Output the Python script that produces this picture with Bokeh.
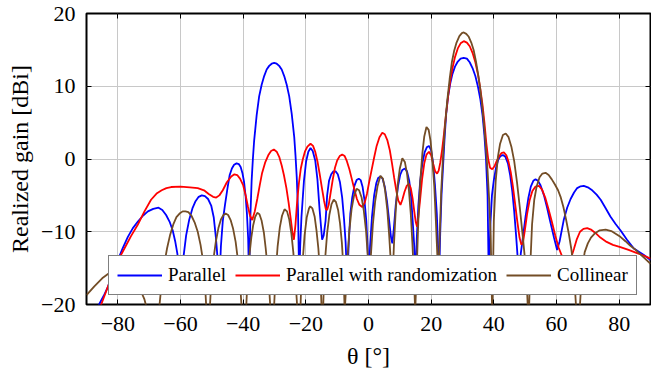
from bokeh.plotting import figure
from bokeh.models import LinearAxis, FixedTicker, Range1d
from bokeh.embed import file_html
from bokeh.resources import INLINE

# ---------------- data ----------------
par_x = [-90, -88, -86, -84.5, -83.2, -81.6, -80, -78.4, -76.8, -75.2, -73.6, -72, -70.4, -68.7, -67, -65.8,
         -64.6, -63.5, -62.5, -61.7, -61, -60.5, -60,
         -59.2, -58.2, -57.2, -56.2, -55.2, -54.2, -53.2, -52.2, -51.2, -50.2, -49.4, -48.7, -48.1, -47.6,
         -47.1, -46.5, -45.8, -45, -44.3, -43.6, -42.9, -42.1, -41.4, -40.8, -40.2, -39.7, -39.2, -38.8, -38.4, -38.1,
         -37.7, -37.3, -36.9, -36.5, -35.7, -34.9, -34.1, -33.3, -32.5, -31.7, -30.9, -30.1, -29.3, -28.5,
         -27.7, -26.9, -26.1, -25.3, -24.5, -23.7, -23.3, -22.9, -22.5, -22.1,
         -21.8, -21.4, -20.6, -19.9, -19.2, -18.5, -17.8, -17.0, -16.3, -15.6, -14.8,
         -14.3, -13.7, -13.2, -12.6, -11.9, -11.2, -10.5, -9.8, -9.1, -8.4, -7.8, -7.3, -6.8,
         -6.3, -5.8, -5.2, -4.5, -3.8, -3.1, -2.5, -1.9, -1.3, -0.7, -0.3, 0.1,
         0.5, 1.1, 1.8, 2.5, 3.1, 3.8, 4.5, 5.2, 5.9, 6.6, 7.2, 7.6,
         8.1, 8.7, 9.4, 10.1, 10.8, 11.6, 12.3, 13.0, 13.6, 14.1, 14.6, 15,
         15.4, 15.9, 16.5, 17.2, 17.9, 18.6, 19.3, 20.0, 20.6, 21.2, 21.8, 22.2, 22.5,
         22.9, 23.3, 23.8, 24.3, 24.8, 25.4, 26.1, 26.8, 27.6, 28.5, 29.4, 30.4, 31.4, 32.3, 33.2, 34.1,
         34.9, 35.7, 36.4, 37.0, 37.5, 38.0, 38.4,
         38.9, 39.4, 40.0, 40.7, 41.4, 42.1, 42.9, 43.7, 44.5, 45.2, 45.9, 46.5, 47.1, 47.6, 48.1,
         48.6, 49.2, 50.1, 51.0, 51.8, 52.6, 53.3, 54.1, 54.9, 56.0, 57.0, 58.0, 59.2, 60.2,
         61.0, 62.3, 63.4, 64.5, 65.6, 66.6, 67.7, 68.7, 70.0, 71.4, 72.8, 74.1, 75.6, 77.2, 78.8, 80.4,
         82.5, 84.7, 87.9, 90]
par_y = [-24, -22, -20, -18.8, -17.6, -15.7, -13.9, -12.2, -10.7, -9.5, -8.6, -7.8, -7.2, -6.85, -6.7, -7.0,
         -7.7, -8.6, -9.8, -11.3, -13, -15, -17,
         -14, -10.5, -8.3, -6.8, -5.8, -5.2, -5.0, -5.1, -5.5, -6.4, -8, -10.8, -14, -17,
         -12, -8.5, -6.3, -4, -2.2, -1.3, -0.8, -0.6, -0.7, -1.1, -2.0, -3.2, -5.2, -7.5, -11, -17,
         -8, -3, 0, 2.5, 6, 8.6, 10.2, 11.4, 12.3, 12.8, 13.1, 13.2, 13.1, 12.8,
         12.3, 11.4, 10.2, 8.6, 6.2, 3.0, 0.5, -2.5, -7, -17,
         -12, -8, -3, -0.3, 1.0, 1.5, 1.1, -0.2, -2.8, -7, -11.1,
         -10.5, -8.5, -5, -3.0, -2.1, -1.7, -1.7, -2.1, -3.2, -5.3, -8.3, -11.5, -17,
         -11.5, -7.5, -5.3, -3.7, -2.9, -2.7, -2.9, -3.8, -5.6, -8.5, -12, -17,
         -12, -8, -5, -3.3, -2.6, -2.4, -2.7, -3.8, -5.8, -8.5, -10.8, -11.6,
         -9.5, -6.3, -3.8, -2.2, -1.5, -1.3, -1.7, -3.0, -5.2, -8.5, -12, -17,
         -11, -6.5, -3, -0.6, 0.9, 1.6, 1.8, 1.2, -0.5, -3.5, -7.5, -12, -17,
         -10, -5, -1, 3, 6.2, 8.6, 10.4, 11.7, 12.7, 13.4, 13.8, 13.9, 13.8, 13.3, 12.5, 11.4,
         10.0, 8.2, 6.0, 3.2, 0, -5, -17,
         -9, -5, -2.9, -1.2, -0.1, 0.4, 0.55, 0.3, -0.6, -2.2, -4.5, -7.2, -10.5, -13.5, -17,
         -13, -11, -8.0, -5.4, -3.8, -3.0, -2.8, -3.0, -3.6, -5.0, -6.7, -8.6, -10.8, -12.5,
         -11.3, -8.4, -6.7, -5.5, -4.6, -4.0, -3.75, -3.7, -3.9, -4.3, -4.9, -5.6, -6.7, -7.9, -8.9, -9.8,
         -11.1, -12.3, -13.2, -13.9]

rnd_x = [-90, -88, -85.3, -82, -80, -77.9, -75.8, -73.6, -71.5, -69.4, -67.5, -66, -64.5, -63, -60, -57,
         -54.5, -52.5, -51, -49.6, -48.6, -47.6, -46.5, -45.2, -43.8, -42.8, -41.9, -41, -40, -39.2, -38.5,
         -37.8, -37.1, -36.3, -35.5, -34.7, -34, -33, -32, -31.1, -30.2, -29.3, -28.5, -27.7, -27, -26.2,
         -25.5, -24.8, -24.3, -23.8, -23.3, -22.8, -22.2, -21.6, -21, -20.3, -19.5, -18.5, -17.7, -17,
         -16.3, -15.6, -14.9, -14.2, -13.6, -13.2, -12.7, -12.1, -11.4, -10.7, -10, -9.2, -8.4, -7.6, -6.9,
         -6.1, -5.3, -4.5, -3.7, -2.9, -2, -1.2, -0.5, 0.2, 1, 1.8, 2.6, 3.5, 4.4, 5.2, 6.0, 6.8, 7.5, 8.2,
         8.9, 9.5, 10.2, 10.8, 11.5, 12.2, 12.9, 13.5, 14.1, 14.7, 15.1, 15.5, 15.9, 16.5, 17.1, 17.8,
         18.5, 19.3, 20.0, 20.6, 21.3, 21.9, 22.4, 22.9, 23.5, 24.1, 24.7, 25.4, 26.1, 26.8, 27.6, 28.5,
         29.4, 30.4, 31.4, 32.3, 33.2, 34.1, 35.0, 35.7, 36.4, 37.0, 37.6, 38.2, 38.8, 39.5, 40.2, 40.9,
         41.6, 42.4, 43.2, 44.0, 44.7, 45.4, 46.1, 46.8, 47.5, 48.2, 48.8, 49.3, 49.9, 50.6, 51.4, 52.3,
         53.3, 54.4, 55.4, 56.4, 57.4, 58.5, 59.6, 60.7, 61.8, 62.9, 64.0, 64.8, 65.6, 66.5, 67.5, 68.6,
         69.8, 71, 72.5, 74, 76, 78, 80.4, 83, 85.5, 88, 90]
rnd_y = [-24.5, -22.5, -20, -16.2, -14, -12.3, -10.6, -9.0, -7.2, -5.6, -4.7, -4.3, -4.0, -3.85, -3.8, -3.9,
         -4.0, -4.3, -4.8, -5.2, -5.3, -5.0, -4.3, -3.2, -2.4, -2.1, -2.2, -2.7, -3.6, -5, -6.5,
         -7.8, -8.4, -7.2, -5.5, -3.6, -2.0, -0.5, 0.5, 1.1, 1.3, 1.0, 0.3, -0.9, -2.2, -4,
         -6, -8.3, -10, -11.1, -9, -6, -3.3, -1.3, -0.1, 1.0, 1.7, 2.1, 1.8, 1.0,
         -0.3, -2.0, -3.9, -5.7, -6.9, -7.0, -6.3, -4.7, -2.8, -1.2, -0.2, 0.4, 0.6, 0.4, -0.3,
         -1.4, -2.8, -4.2, -5.5, -6.3, -6.6, -6.0, -4.8, -3.2, -1.5, 0.2, 1.8, 3.0, 3.6, 3.4, 2.6, 1.2, -0.6, -2.6,
         -4.4, -5.7, -6.3, -5.6, -4.5, -3.7, -3.4, -4.0, -5.5, -7.5, -8.7, -9.3, -8, -5.5, -2.8, -0.6,
         0.6, 1.0, 0.5, -0.6, -1.7, -2.0, -1.6, -0.5, 1.3, 3.5, 6.0, 8.6, 10.8, 12.5, 14.0, 15.2,
         15.9, 16.2, 16.0, 15.5, 14.6, 13.3, 11.5, 9.6, 7.4, 5.0, 2.2, 0, -1.2, -1.4, -1.0, -0.3,
         0.3, 0.8, 0.9, 0.5, -0.4, -1.8, -3.8, -6.2, -8.6, -10.8, -11.8, -11.5, -9.8, -7.6, -5.7, -4.4,
         -3.8, -3.7, -4.2, -5.3, -6.8, -8.6, -10.5, -12.2, -13.4, -14.0, -14.0, -13.4, -12.3, -11.0, -10.0, -9.6,
         -9.5, -9.7, -10.2, -10.8, -11.4, -11.8, -12.1, -12.5, -12.9, -13.3, -13.7]

col_x = [-90, -87.5, -85, -82.5, -80, -77.5, -75, -73, -71.5, -70.5, -69.5, -68.6, -67.7, -66.8, -66.0, -65.2,
         -64.3, -63.3, -62.3, -61.3, -60.3, -59.3, -58.4, -57.5, -56.5, -55.5, -54.5, -53.6, -52.8, -52.2,
         -51.7, -51.2, -50.7, -50.2, -49.5, -48.7, -47.9, -47.1, -46.3, -45.6, -44.8, -44.0, -43.2, -42.4,
         -41.7, -41.0, -40.4, -39.7, -39.1, -38.6, -38.0, -37.4, -36.8, -36.2, -35.5, -34.8, -34.1, -33.4,
         -32.8, -32.2, -31.6, -31.1, -30.6, -30.1, -29.6, -29.0, -28.3, -27.6, -26.8, -26.0, -25.3, -24.6,
         -24.0, -23.4, -22.8, -22.2, -21.6, -21.0, -20.4, -19.7, -19.0, -18.6, -17.9, -17.2, -16.6, -16.0,
         -15.5, -15.1, -14.7, -14.3, -13.8, -13.2, -12.5, -11.8, -11.1, -10.4, -9.7, -9.1, -8.5, -8.0, -7.6,
         -7.2, -6.7, -6.1, -5.4, -4.6, -3.8, -3.0, -2.2, -1.5, -0.8, -0.2, 0.3, 0.8, 1.4, 2.1, 2.9, 3.8,
         4.6, 5.3, 6.0, 6.6, 7.1, 7.6, 8.1, 8.7, 9.3, 10.0, 10.8, 11.6, 12.3, 12.9, 13.5, 14.0, 14.5, 14.9,
         15.4, 15.9, 16.5, 17.2, 17.8, 18.5, 19.2, 19.8, 20.4, 21.0, 21.5, 22.0, 22.3, 22.7, 23.2, 23.8,
         24.4, 25.1, 25.9, 26.6, 27.3, 28.1, 29.0, 29.8, 30.4, 31.2, 32.0, 32.8, 33.6, 34.3, 35.0, 35.6,
         36.2, 36.8, 37.4, 38.0, 38.5, 39.0, 39.5, 40.0, 40.6, 41.3, 42.0, 42.9, 43.8, 44.7, 45.6, 46.5,
         47.4, 48.3, 49.2, 50.0, 50.6, 51.1, 51.6, 52.2, 52.9, 53.7, 54.6, 55.5, 56.5, 57.5, 58.5, 59.5,
         60.5, 61.3, 62.2, 63.0, 63.9, 64.7, 65.5, 66.2, 66.8, 67.5, 68.2, 69.0, 70.0, 71.0, 72.3, 73.8,
         75.7, 77.5, 79.0, 80.4, 82.0, 83.5, 85.0, 86.5, 88.0, 90]
col_y = [-18.7, -17.5, -16.4, -15.6, -15.2, -15.4, -16.4, -17.8, -19.3, -21, -25, -30, -25, -20.5, -17, -14.5,
         -12.3, -10.4, -9.0, -8.0, -7.5, -7.2, -7.2, -7.3, -7.8, -8.7, -10.0, -11.8, -14, -17,
         -21, -30, -21, -17, -13.8, -11.3, -9.5, -8.3, -7.7, -7.5, -7.7, -8.4, -9.6, -11.4,
         -13.8, -17, -21, -30, -21, -16.5, -13.2, -10.8, -9.1, -8.0, -7.4, -7.6, -8.5, -10.1,
         -12.3, -15.1, -18.5, -22, -28, -20, -15.5, -12, -9.4, -7.8, -6.9, -7.2, -8.3, -10.3,
         -12.8, -16, -20, -28, -19, -14, -10.5, -8.0, -6.8, -6.5, -6.8, -7.9, -9.8, -12.3,
         -15.5, -19, -24, -18, -13.5, -10.2, -7.7, -6.2, -5.6, -5.9, -7.0, -8.8, -11.5, -15, -21,
         -18, -13.5, -9.8, -6.9, -5.0, -4.1, -4.3, -5.3, -7.1, -9.8, -13.5, -17.5, -13, -9.0, -5.9, -3.7, -2.3,
         -2.7, -4.3, -7.0, -10.5, -14, -17.5, -12, -7.0, -3.6, -1.3, 0.1, -0.4, -2.0, -4.3, -7.6, -11.5, -16, -21,
         -15, -8.5, -3.2, 0.8, 3.1, 4.4, 4.0, 2.5, -0.2, -3.8, -8.5, -13.5, -17, -11, -4.5, 0.5,
         4.5, 7.9, 11.0, 13.3, 14.8, 16.0, 16.9, 17.3, 17.4, 17.2, 16.8, 16.0, 14.9, 13.4, 11.6, 9.8,
         7.6, 5.0, 2.0, -1.6, -5.5, -10.5, -22, -8.5, -3.0, 0.3, 2.1, 3.3, 3.5, 3.0, 1.7, -0.3,
         -3.2, -6.7, -10.5, -14, -18, -23, -15, -9.0, -5.6, -3.7, -2.5, -2.0, -1.9, -2.2, -2.8, -3.5,
         -4.3, -5.2, -6.6, -8.2, -10.2, -12.3, -15, -20, -30, -20, -15, -12.8, -11.6, -10.8, -10.2, -9.8,
         -9.7, -9.9, -10.3, -10.7, -11.3, -11.9, -12.4, -13.0, -13.6, -14.4]

x_ticks = [-80, -60, -40, -20, 0, 20, 40, 60, 80]
y_ticks = [-20, -10, 0, 10, 20]
series_names = ["Parallel", "Parallel with randomization", "Collinear"]

# ---------------- styling ----------------
FONT = "Liberation Serif"
colors = ["#0000ff", "#ff0000", "#734d26"]

p = figure(width=651, height=380, output_backend="svg", toolbar_location=None,
           x_range=Range1d(-90, 90), y_range=Range1d(-20, 20),
           min_border_left=86, min_border_right=1, min_border_top=13, min_border_bottom=76)

p.background_fill_color = "white"
p.border_fill_color = "white"
p.outline_line_color = "black"
p.outline_line_width = 2

for xs, ys, c, name in zip([par_x, rnd_x, col_x], [par_y, rnd_y, col_y], colors, series_names):
    p.line(xs, ys, line_color=c, line_width=1.8, legend_label=name)

def minus(v):
    return str(v).replace("-", "\u2212")

p.xaxis.ticker = FixedTicker(ticks=x_ticks)
p.yaxis.ticker = FixedTicker(ticks=y_ticks)
p.xaxis.major_label_overrides = {t: minus(t) for t in x_ticks}
p.yaxis.major_label_overrides = {t: minus(t) for t in y_ticks}

for ax in [p.xaxis[0], p.yaxis[0]]:
    ax.axis_line_color = None
    ax.major_tick_in = 5
    ax.major_tick_out = 0
    ax.major_tick_line_color = "black"
    ax.minor_tick_line_color = None
    ax.major_label_text_font = FONT
    ax.major_label_text_font_size = "22px"
    ax.major_label_text_color = "black"
    ax.axis_label_text_font = FONT
    ax.axis_label_text_font_style = "normal"
    ax.axis_label_text_color = "black"
    ax.axis_label_text_font_size = "24px"

p.xaxis.axis_label = "\u03b8 [\u00b0]"
p.yaxis.axis_label = "Realized gain [dBi]"
p.xaxis.major_label_standoff = 12
p.xaxis.axis_label_standoff = 9
p.yaxis.major_label_standoff = 11
p.yaxis.axis_label_standoff = 5

# mirrored tick marks on top and right (no labels)
p.add_layout(LinearAxis(ticker=FixedTicker(ticks=x_ticks), axis_line_color=None, major_tick_in=5,
                        major_tick_out=0, minor_tick_line_color=None,
                        major_label_overrides={t: "" for t in x_ticks},
                        major_label_standoff=0), "above")
p.add_layout(LinearAxis(ticker=FixedTicker(ticks=y_ticks), axis_line_color=None, major_tick_in=5,
                        major_tick_out=0, minor_tick_line_color=None,
                        major_label_overrides={t: "" for t in y_ticks},
                        major_label_standoff=0), "right")

p.grid.grid_line_color = "#c8c8c8"
p.grid.grid_line_width = 1
p.xgrid.ticker = FixedTicker(ticks=x_ticks)
p.ygrid.ticker = FixedTicker(ticks=y_ticks)

lg = p.legend[0]
lg.orientation = "horizontal"
lg.location = (22, 9)
lg.label_text_font = FONT
lg.label_text_font_size = "19px"
lg.label_text_color = "black"
lg.glyph_width = 45
lg.glyph_height = 22
lg.label_height = 22
lg.label_standoff = 6
lg.spacing = 9
lg.padding = 8
lg.margin = 0
lg.border_line_color = "black"
lg.border_line_width = 1.8
lg.background_fill_color = "white"
lg.background_fill_alpha = 1.0

open("out.html", "w").write(file_html(p, INLINE))
